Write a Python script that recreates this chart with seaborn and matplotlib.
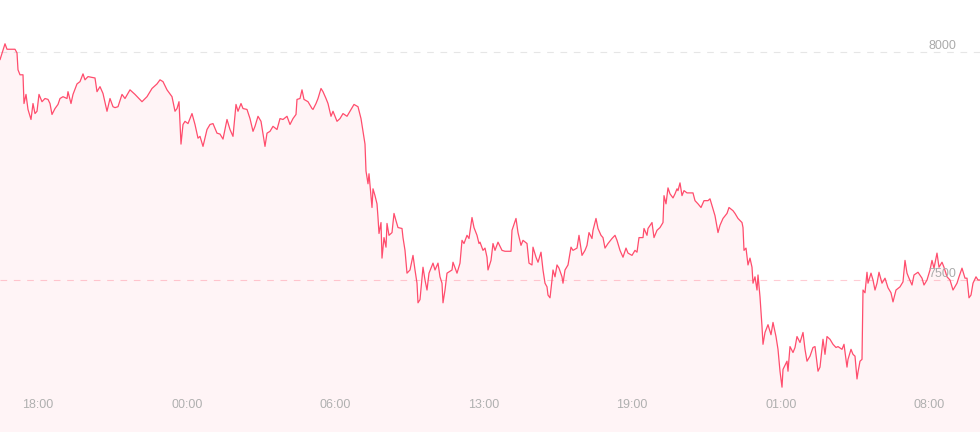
import matplotlib
matplotlib.use("Agg")
import matplotlib.pyplot as plt
import pandas as pd
import seaborn as sns

# sample number along the session (category-style time axis) and price
sample = [
    0, 5, 7, 11, 15, 17, 18, 20, 23, 24,
    26, 28, 31, 33, 35, 37, 39, 42, 45, 48,
    50, 52, 55, 58, 60, 63, 67, 68, 71, 73,
    77, 80, 83, 85, 88, 95, 97, 100, 103, 107,
    110, 113, 115, 118, 122, 125, 130, 135, 142, 147,
    152, 157, 160, 163, 167, 172, 175, 177, 179, 181,
    183, 185, 188, 192, 195, 198, 200, 203, 207, 210,
    213, 217, 220, 223, 227, 230, 233, 236, 238, 241,
    243, 247, 250, 253, 255, 258, 261, 263, 265, 267,
    270, 273, 277, 280, 283, 287, 290, 293, 296, 297,
    300, 302, 304, 308, 312, 313, 316, 318, 321, 323,
    326, 328, 331, 333, 337, 340, 343, 347, 350, 354,
    358, 361, 363, 365, 366, 368, 369, 372, 373, 375,
    377, 378, 379, 381, 382, 384, 386, 387, 389, 392,
    394, 396, 398, 402, 403, 405, 407, 410, 413, 415,
    417, 418, 420, 423, 425, 427, 429, 433, 435, 438,
    440, 442, 443, 445, 447, 452, 453, 457, 460, 462,
    464, 467, 469, 472, 474, 477, 479, 480, 483, 485,
    487, 488, 491, 493, 495, 498, 502, 505, 511, 512,
    516, 518, 521, 523, 527, 529, 532, 533, 536, 538,
    541, 543, 545, 547, 548, 550, 552, 553, 555, 557,
    559, 562, 563, 565, 568, 571, 573, 577, 579, 582,
    585, 587, 589, 592, 593, 596, 598, 601, 603, 605,
    608, 612, 615, 617, 620, 623, 626, 628, 632, 635,
    637, 639, 643, 644, 647, 648, 652, 654, 657, 660,
    663, 664, 666, 668, 670, 673, 675, 677, 678, 680,
    682, 684, 687, 693, 695, 698, 701, 704, 708, 710,
    712, 715, 718, 720, 723, 727, 729, 733, 735, 738,
    742, 743, 744, 746, 748, 750, 752, 753, 755, 757,
    758, 760, 762, 763, 765, 768, 771, 773, 776, 778,
    780, 782, 783, 787, 788, 790, 793, 795, 797, 800,
    803, 805, 807, 810, 813, 815, 818, 820, 823, 825,
    827, 830, 833, 836, 838, 842, 844, 847, 848, 851,
    853, 855, 857, 858, 860, 862, 863, 865, 867, 868,
    871, 873, 875, 877, 879, 882, 885, 888, 891, 893,
    896, 900, 903, 905, 907, 909, 912, 914, 918, 922,
    924, 927, 930, 932, 934, 937, 939, 942, 944, 947,
    950, 953, 957, 959, 962, 965, 967, 969, 971, 973,
    976, 978, 980,
]
price = [
    7983, 8018, 8006, 8006, 8006, 7998, 7961, 7950, 7950, 7887,
    7907, 7874, 7852, 7887, 7865, 7870, 7907, 7891, 7898, 7896,
    7887, 7863, 7876, 7885, 7898, 7902, 7898, 7913, 7887, 7907,
    7930, 7935, 7952, 7939, 7946, 7943, 7913, 7924, 7909, 7870,
    7898, 7880, 7878, 7880, 7907, 7898, 7917, 7907, 7891, 7902,
    7920, 7930, 7939, 7935, 7917, 7902, 7870, 7876, 7891, 7798,
    7841, 7848, 7843, 7865, 7841, 7811, 7815, 7793, 7830, 7841,
    7843, 7822, 7820, 7809, 7852, 7830, 7815, 7885, 7870, 7887,
    7876, 7874, 7854, 7826, 7837, 7859, 7848, 7820, 7793, 7822,
    7826, 7837, 7830, 7854, 7852, 7859, 7841, 7854, 7863, 7896,
    7898, 7917, 7896, 7891, 7876, 7874, 7887, 7898, 7920, 7913,
    7898, 7887, 7859, 7870, 7848, 7854, 7865, 7859, 7870, 7885,
    7880, 7854, 7826, 7798, 7739, 7711, 7733, 7659, 7700, 7685,
    7667, 7637, 7602, 7626, 7548, 7593, 7572, 7624, 7598, 7604,
    7646, 7630, 7615, 7613, 7593, 7565, 7515, 7522, 7554, 7522,
    7493, 7450, 7457, 7528, 7500, 7478, 7515, 7537, 7522, 7537,
    7507, 7493, 7450, 7478, 7515, 7522, 7539, 7515, 7537, 7587,
    7580, 7598, 7591, 7637, 7615, 7598, 7580, 7583, 7565, 7570,
    7550, 7522, 7543, 7580, 7565, 7583, 7565, 7563, 7563, 7609,
    7635, 7604, 7576, 7587, 7580, 7537, 7533, 7572, 7550, 7539,
    7561, 7522, 7493, 7485, 7467, 7461, 7500, 7522, 7507, 7533,
    7526, 7507, 7493, 7522, 7533, 7572, 7565, 7570, 7598, 7554,
    7565, 7576, 7604, 7591, 7609, 7635, 7613, 7598, 7593, 7570,
    7580, 7591, 7598, 7587, 7565, 7550, 7570, 7559, 7554, 7565,
    7561, 7593, 7593, 7613, 7598, 7613, 7626, 7593, 7609, 7615,
    7626, 7685, 7667, 7702, 7689, 7680, 7689, 7700, 7696, 7713,
    7685, 7696, 7691, 7691, 7674, 7667, 7659, 7674, 7674, 7678,
    7663, 7641, 7604, 7620, 7635, 7646, 7659, 7652, 7646, 7635,
    7626, 7615, 7565, 7570, 7533, 7548, 7528, 7493, 7507, 7478,
    7511, 7463, 7398, 7359, 7385, 7402, 7380, 7407, 7376, 7348,
    7300, 7265, 7304, 7322, 7300, 7354, 7341, 7352, 7376, 7363,
    7385, 7348, 7322, 7333, 7352, 7354, 7300, 7309, 7370, 7337,
    7376, 7370, 7359, 7352, 7354, 7348, 7359, 7309, 7326, 7348,
    7337, 7333, 7283, 7298, 7322, 7326, 7478, 7472, 7517, 7493,
    7515, 7500, 7478, 7493, 7517, 7493, 7504, 7483, 7472, 7452,
    7478, 7485, 7496, 7543, 7515, 7504, 7489, 7511, 7517, 7504,
    7489, 7500, 7522, 7543, 7526, 7559, 7528, 7539, 7528, 7507,
    7500, 7478, 7493, 7507, 7526, 7504, 7504, 7461, 7467, 7493,
    7507, 7500, 7500,
]
tick_pos = [38, 187, 335, 484, 632, 781, 929]
tick_labels = ["18:00", "00:00", "06:00", "13:00", "19:00", "01:00", "08:00"]
y_levels = [7500, 8000]
level_colors = ["#ffccd4", "#e6e6e6"]

sns.set_style("white")
plt.rcParams["font.family"] = ["Liberation Sans", "DejaVu Sans"]

fig = plt.figure(figsize=(9.8, 4.32), dpi=100)
ax = fig.add_axes([0, 0, 1, 1])

df = pd.DataFrame({"sample": sample, "price": price})
ymin, ymax = 7166.7, 8114.0

ax.fill_between(df["sample"], df["price"], ymin, color="#ff4d6a",
                alpha=0.06, linewidth=0, zorder=1)
sns.lineplot(data=df, x="sample", y="price", ax=ax, color="#ff4d6d",
             linewidth=0.9, zorder=3)

for lv, lc in zip(y_levels, level_colors):
    ax.axhline(lv, color=lc, lw=0.8, dashes=(6, 6), zorder=0.5)
    ax.text(956 / 980, lv, f"{lv}", transform=ax.get_yaxis_transform(),
            ha="right", va="bottom", fontsize=9, color="#ababab", zorder=4)

for pos, lab in zip(tick_pos, tick_labels):
    ax.text(pos, 27 / 432, lab, transform=ax.get_xaxis_transform(),
            ha="center", va="center", fontsize=9, color="#b0b0b0", zorder=4)

ax.set_xlim(0, 980)
ax.set_ylim(ymin, ymax)
ax.set_axis_off()

fig.savefig("out.png", dpi=100)
